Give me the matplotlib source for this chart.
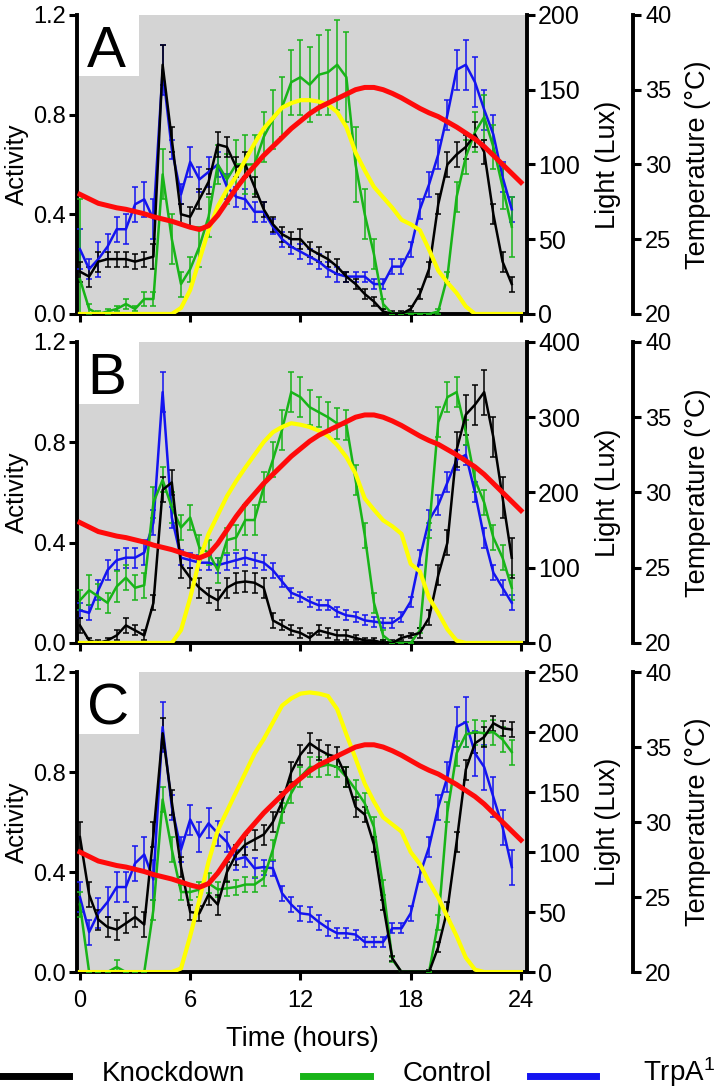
import numpy as np
import matplotlib
matplotlib.use('Agg')
import matplotlib.pyplot as plt
from matplotlib.patches import Rectangle
from matplotlib.lines import Line2D

plt.rcParams['font.family'] = ['Liberation Sans', 'DejaVu Sans']
plt.rcParams['mathtext.default'] = 'regular'

# activity sampled every half hour, environment every half hour incl. 24h
hours = np.arange(0, 24, 0.5)
env_hours = np.arange(0, 24.5, 0.5)

labels = ['Knockdown', 'Control', 'TrpA$^1$']

# ---- panel A ----
A_black = [0.17, 0.15, 0.21, 0.22, 0.22, 0.22, 0.21, 0.22, 0.23, 1.00,
           0.70, 0.40, 0.39, 0.46, 0.53, 0.68, 0.67, 0.59, 0.60, 0.51,
           0.42, 0.36, 0.32, 0.30, 0.30, 0.26, 0.24, 0.22, 0.19, 0.15,
           0.12, 0.08, 0.05, 0.01, 0.00, 0.00, 0.02, 0.08, 0.18, 0.44,
           0.60, 0.64, 0.67, 0.72, 0.65, 0.40, 0.21, 0.12]
A_black_err = [0.04, 0.04, 0.04, 0.03, 0.03, 0.03, 0.03, 0.03, 0.05, 0.08,
               0.05, 0.04, 0.04, 0.04, 0.05, 0.05, 0.04, 0.04, 0.05, 0.04,
               0.03, 0.03, 0.03, 0.03, 0.04, 0.03, 0.03, 0.03, 0.03, 0.02,
               0.02, 0.02, 0.02, 0.01, 0.01, 0.01, 0.01, 0.02, 0.03, 0.04,
               0.05, 0.05, 0.05, 0.05, 0.05, 0.04, 0.04, 0.03]
A_green = [0.14, 0.02, 0.00, 0.01, 0.02, 0.04, 0.02, 0.06, 0.06, 0.56,
           0.30, 0.12, 0.18, 0.27, 0.39, 0.60, 0.54, 0.60, 0.60, 0.60,
           0.71, 0.78, 0.83, 0.93, 0.95, 0.92, 0.96, 0.97, 1.00, 0.95,
           0.60, 0.40, 0.24, 0.04, 0.00, 0.00, 0.00, 0.00, 0.00, 0.01,
           0.15, 0.47, 0.63, 0.73, 0.79, 0.67, 0.51, 0.35]
A_green_err = [0.32, 0.02, 0.01, 0.01, 0.01, 0.02, 0.01, 0.03, 0.03, 0.10,
               0.10, 0.05, 0.05, 0.08, 0.08, 0.08, 0.10, 0.10, 0.12, 0.12,
               0.10, 0.12, 0.12, 0.13, 0.15, 0.15, 0.16, 0.17, 0.18, 0.18,
               0.15, 0.10, 0.06, 0.02, 0.00, 0.00, 0.00, 0.00, 0.00, 0.01,
               0.02, 0.06, 0.07, 0.08, 0.09, 0.09, 0.09, 0.12]
A_blue = [0.26, 0.18, 0.22, 0.27, 0.34, 0.34, 0.44, 0.46, 0.38, 0.98,
          0.66, 0.48, 0.61, 0.54, 0.57, 0.60, 0.51, 0.47, 0.46, 0.41,
          0.41, 0.35, 0.30, 0.27, 0.25, 0.23, 0.21, 0.18, 0.16, 0.15,
          0.15, 0.15, 0.12, 0.12, 0.19, 0.19, 0.26, 0.42, 0.52, 0.64,
          0.80, 0.98, 1.00, 0.93, 0.82, 0.72, 0.55, 0.42]
A_blue_err = [0.08, 0.04, 0.07, 0.05, 0.05, 0.06, 0.07, 0.07, 0.08, 0.10,
              0.04, 0.04, 0.06, 0.05, 0.06, 0.05, 0.05, 0.04, 0.04, 0.04,
              0.04, 0.03, 0.03, 0.03, 0.03, 0.03, 0.03, 0.03, 0.03, 0.02,
              0.02, 0.02, 0.02, 0.02, 0.03, 0.03, 0.03, 0.04, 0.05, 0.06,
              0.06, 0.08, 0.10, 0.10, 0.08, 0.08, 0.06, 0.05]
A_light = [0, 0, 0, 0, 0, 0, 0, 0, 0, 0,
           0, 4, 16, 36, 56, 72, 83, 92, 103, 114,
           124, 131, 138, 141, 143, 143, 142, 140, 135, 125,
           108, 96, 85, 78, 71, 63, 60, 56, 43, 29,
           21, 14, 5, 0, 0, 0, 0, 0, 0]

# ---- panel B ----
B_black = [0.07, 0.01, 0.00, 0.01, 0.03, 0.07, 0.05, 0.03, 0.16, 0.61,
           0.64, 0.31, 0.26, 0.22, 0.19, 0.17, 0.22, 0.24, 0.245, 0.24,
           0.22, 0.09, 0.07, 0.05, 0.04, 0.02, 0.05, 0.04, 0.03, 0.03,
           0.02, 0.01, 0.01, 0.00, 0.00, 0.02, 0.03, 0.04, 0.10, 0.27,
           0.40, 0.77, 0.91, 0.95, 1.00, 0.82, 0.58, 0.34]
B_black_err = [0.03, 0.01, 0.01, 0.01, 0.02, 0.03, 0.02, 0.02, 0.03, 0.05,
               0.05, 0.05, 0.04, 0.04, 0.03, 0.04, 0.04, 0.04, 0.04, 0.04,
               0.04, 0.03, 0.02, 0.02, 0.02, 0.02, 0.02, 0.02, 0.02, 0.02,
               0.01, 0.01, 0.01, 0.01, 0.01, 0.01, 0.01, 0.02, 0.03, 0.04,
               0.05, 0.07, 0.08, 0.08, 0.09, 0.08, 0.08, 0.08]
B_green = [0.17, 0.21, 0.185, 0.16, 0.225, 0.26, 0.22, 0.23, 0.56, 0.65,
           0.54, 0.46, 0.50, 0.38, 0.36, 0.29, 0.41, 0.42, 0.49, 0.49,
           0.62, 0.73, 0.85, 1.00, 0.98, 0.94, 0.92, 0.90, 0.875, 0.87,
           0.65, 0.43, 0.16, 0.03, 0.00, 0.00, 0.00, 0.05, 0.45, 0.88,
           0.98, 1.00, 0.84, 0.65, 0.56, 0.42, 0.34, 0.22]
B_green_err = [0.04, 0.06, 0.05, 0.04, 0.06, 0.05, 0.05, 0.05, 0.06, 0.05,
               0.06, 0.05, 0.05, 0.05, 0.05, 0.05, 0.05, 0.05, 0.06, 0.06,
               0.06, 0.07, 0.08, 0.08, 0.08, 0.07, 0.06, 0.06, 0.06, 0.06,
               0.06, 0.05, 0.04, 0.02, 0.00, 0.00, 0.00, 0.01, 0.03, 0.06,
               0.06, 0.06, 0.05, 0.05, 0.05, 0.05, 0.05, 0.05]
B_blue = [0.13, 0.12, 0.21, 0.29, 0.33, 0.34, 0.34, 0.36, 0.48, 1.00,
          0.50, 0.34, 0.33, 0.32, 0.32, 0.31, 0.32, 0.33, 0.34, 0.33,
          0.32, 0.29, 0.245, 0.20, 0.185, 0.165, 0.15, 0.15, 0.125, 0.11,
          0.105, 0.09, 0.085, 0.08, 0.08, 0.105, 0.165, 0.34, 0.49, 0.55,
          0.64, 0.73, 0.75, 0.60, 0.42, 0.28, 0.22, 0.16]
B_blue_err = [0.03, 0.03, 0.04, 0.04, 0.04, 0.04, 0.04, 0.05, 0.05, 0.08,
              0.04, 0.03, 0.03, 0.03, 0.03, 0.03, 0.03, 0.03, 0.03, 0.03,
              0.03, 0.03, 0.02, 0.02, 0.02, 0.02, 0.02, 0.02, 0.02, 0.02,
              0.02, 0.02, 0.02, 0.02, 0.02, 0.02, 0.02, 0.03, 0.04, 0.04,
              0.04, 0.04, 0.04, 0.04, 0.04, 0.03, 0.03, 0.03]
B_light = [0, 0, 0, 0, 0, 0, 0, 0, 0, 0,
           0, 17, 60, 110, 145, 170, 195, 215, 233, 250,
           267, 280, 287, 292, 290, 287, 282, 275, 263, 247,
           225, 192, 177, 163, 155, 145, 105, 95, 60, 40,
           18, 3, 0, 0, 0, 0, 0, 0, 0]

# ---- panel C ----
C_black = [0.54, 0.31, 0.21, 0.18, 0.17, 0.195, 0.22, 0.19, 0.55, 0.955,
           0.68, 0.42, 0.24, 0.235, 0.31, 0.27, 0.40, 0.47, 0.51, 0.53,
           0.55, 0.60, 0.68, 0.80, 0.87, 0.915, 0.89, 0.87, 0.86, 0.78,
           0.66, 0.63, 0.51, 0.27, 0.055, 0.00, 0.00, 0.00, 0.00, 0.10,
           0.25, 0.52, 0.81, 0.915, 0.94, 0.995, 0.975, 0.97]
C_black_err = [0.06, 0.05, 0.04, 0.04, 0.04, 0.04, 0.04, 0.05, 0.05, 0.06,
               0.05, 0.04, 0.03, 0.03, 0.04, 0.04, 0.04, 0.04, 0.04, 0.04,
               0.04, 0.04, 0.04, 0.04, 0.04, 0.04, 0.04, 0.04, 0.04, 0.04,
               0.04, 0.03, 0.03, 0.02, 0.01, 0.00, 0.00, 0.00, 0.01, 0.02,
               0.03, 0.04, 0.04, 0.04, 0.04, 0.03, 0.03, 0.03]
C_green = [0.27, 0.00, 0.00, 0.00, 0.02, 0.00, 0.00, 0.00, 0.25, 0.69,
           0.49, 0.32, 0.32, 0.33, 0.355, 0.33, 0.335, 0.34, 0.35, 0.35,
           0.375, 0.49, 0.635, 0.715, 0.78, 0.82, 0.82, 0.83, 0.82, 0.78,
           0.73, 0.675, 0.58, 0.34, 0.05, 0.00, 0.00, 0.00, 0.00, 0.20,
           0.64, 0.875, 0.95, 0.96, 0.955, 0.96, 0.93, 0.88]
C_green_err = [0.05, 0.00, 0.00, 0.00, 0.03, 0.00, 0.00, 0.00, 0.04, 0.05,
               0.05, 0.03, 0.03, 0.03, 0.04, 0.03, 0.03, 0.03, 0.03, 0.03,
               0.03, 0.04, 0.04, 0.04, 0.04, 0.04, 0.04, 0.04, 0.04, 0.04,
               0.04, 0.04, 0.04, 0.03, 0.01, 0.00, 0.00, 0.00, 0.00, 0.03,
               0.04, 0.05, 0.05, 0.05, 0.05, 0.05, 0.05, 0.05]
C_blue = [0.30, 0.16, 0.235, 0.28, 0.34, 0.34, 0.435, 0.47, 0.37, 0.98,
          0.66, 0.49, 0.61, 0.54, 0.595, 0.555, 0.52, 0.45, 0.46, 0.415,
          0.42, 0.415, 0.315, 0.27, 0.235, 0.23, 0.20, 0.175, 0.155, 0.155,
          0.15, 0.12, 0.12, 0.12, 0.175, 0.175, 0.235, 0.39, 0.50, 0.66,
          0.78, 0.98, 1.00, 0.875, 0.82, 0.70, 0.58, 0.42]
C_blue_err = [0.06, 0.05, 0.06, 0.06, 0.06, 0.06, 0.07, 0.07, 0.08, 0.10,
              0.05, 0.05, 0.06, 0.06, 0.06, 0.05, 0.04, 0.04, 0.04, 0.04,
              0.03, 0.03, 0.03, 0.03, 0.03, 0.03, 0.03, 0.03, 0.02, 0.02,
              0.02, 0.02, 0.02, 0.02, 0.02, 0.02, 0.03, 0.03, 0.04, 0.05,
              0.06, 0.08, 0.10, 0.09, 0.09, 0.08, 0.07, 0.07]
C_light = [0, 0, 0, 0, 0, 0, 0, 0, 0, 0,
           0, 3, 30, 60, 92, 118, 134, 150, 166, 182,
           194, 208, 222, 228, 232, 233, 232, 230, 219, 198,
           178, 157, 142, 129, 123, 117, 100, 90, 75, 62,
           46, 30, 12, 2, 0, 0, 0, 0, 0]

# temperature profile (same in every panel)
temperature = [28.0, 27.7, 27.4, 27.25, 27.1, 27.0, 26.85, 26.7, 26.5, 26.35,
               26.2, 26.0, 25.8, 25.65, 25.9, 26.6, 27.5, 28.4, 29.2, 29.9,
               30.6, 31.2, 31.8, 32.4, 32.9, 33.4, 33.8, 34.1, 34.4, 34.7,
               35.0, 35.15, 35.15, 35.0, 34.75, 34.45, 34.1, 33.75, 33.45, 33.2,
               32.85, 32.5, 32.1, 31.7, 31.2, 30.6, 30.0, 29.4, 28.8]

GRAY = '#d4d4d4'
BLACK = '#000000'
GREEN = '#18b418'
BLUE = '#1414f0'
YELLOW = '#ffff00'
RED = '#ff0a0a'
SPW = 2.8

fig = plt.figure(figsize=(7.17, 10.89), dpi=100)


def panel(rect, letter, black, black_err, green, green_err, blue, blue_err,
          light, light_max, light_step, last):
    ax = fig.add_axes(rect)
    ax.set_facecolor(GRAY)
    ax.add_patch(Rectangle((0, 1 - 0.205), 0.137, 0.205, transform=ax.transAxes,
                           facecolor='white', edgecolor='none', zorder=0.5))
    ax.text(0.022, 0.826, letter, transform=ax.transAxes, fontsize=42,
            va='baseline', ha='left', zorder=5)
    for vals, errs, col in [(blue, blue_err, BLUE), (green, green_err, GREEN),
                            (black, black_err, BLACK)]:
        ax.errorbar(hours, vals, yerr=errs, color=col, lw=1.8, elinewidth=1.1,
                    capsize=2.3, capthick=1.1, zorder=3)
    ax.set_xlim(-0.16, 24.33)
    ax.set_ylim(0, 1.2)
    ax.set_yticks([0, 0.4, 0.8, 1.2])
    ax.set_yticklabels(['0.0', '0.4', '0.8', '1.2'])
    ax.set_xticks([0, 6, 12, 18, 24])
    ax.set_ylabel('Activity', fontsize=18.5, labelpad=3)
    ax.tick_params(axis='y', direction='out', length=6, width=2.2, labelsize=17, pad=2)
    ax.tick_params(axis='x', direction='out', length=6, width=2.2, labelsize=17, pad=7,
                   labelbottom=last)
    if last:
        ax.set_xlabel('Time (hours)', fontsize=19.5, labelpad=10)
    ax.spines['top'].set_visible(False)
    ax.spines['right'].set_visible(False)
    ax.spines['left'].set_linewidth(SPW)
    ax.spines['bottom'].set_linewidth(SPW)

    axl = ax.twinx()
    axl.plot(env_hours, light, color=YELLOW, lw=3.0, zorder=2)
    axl.set_ylim(0, light_max)
    axl.set_yticks(np.arange(0, light_max + 1, light_step))
    axl.set_ylabel('Light (Lux)', fontsize=19.5, labelpad=11)
    axl.tick_params(axis='y', direction='out', length=6, width=2.2, labelsize=18, pad=2)
    for s in ['top', 'left', 'bottom']:
        axl.spines[s].set_visible(False)
    axl.spines['right'].set_linewidth(SPW)

    axt = ax.twinx()
    axt.spines['right'].set_position(('axes', 1.235))
    axt.plot(env_hours, temperature, color=RED, lw=3.6, zorder=3)
    axt.set_ylim(20, 40)
    axt.set_yticks([20, 25, 30, 35, 40])
    axt.set_ylabel('Temperature (°C)', fontsize=19.5, labelpad=10)
    axt.tick_params(axis='y', direction='out', length=6, width=2.2, labelsize=17, pad=3)
    for s in ['top', 'left', 'bottom']:
        axt.spines[s].set_visible(False)
    axt.spines['right'].set_linewidth(SPW)
    return ax


left, width = 0.1074, 0.6276
panel([left, 0.7117, width, 0.2746], 'A', A_black, A_black_err, A_green, A_green_err,
      A_blue, A_blue_err, A_light, 200, 50, False)
panel([left, 0.4096, width, 0.2764], 'B', B_black, B_black_err, B_green, B_green_err,
      B_blue, B_blue_err, B_light, 400, 100, False)
panel([left, 0.1074, width, 0.2755], 'C', C_black, C_black_err, C_green, C_green_err,
      C_blue, C_blue_err, C_light, 250, 50, True)

# legend along the bottom edge
legend_cols = [BLACK, GREEN, BLUE]
line_x = [(0.0, 0.096), (0.423, 0.516), (0.739, 0.831)]
text_x = [0.142, 0.561, 0.897]
for lab, col, (x0, x1), tx in zip(labels, legend_cols, line_x, text_x):
    fig.add_artist(Line2D([x0, x1], [0.0115, 0.0115], color=col, lw=5,
                          transform=fig.transFigure))
    fig.text(tx, 0.0073, lab, fontsize=20, va='baseline', ha='left')

fig.savefig('out.png', dpi=100)
